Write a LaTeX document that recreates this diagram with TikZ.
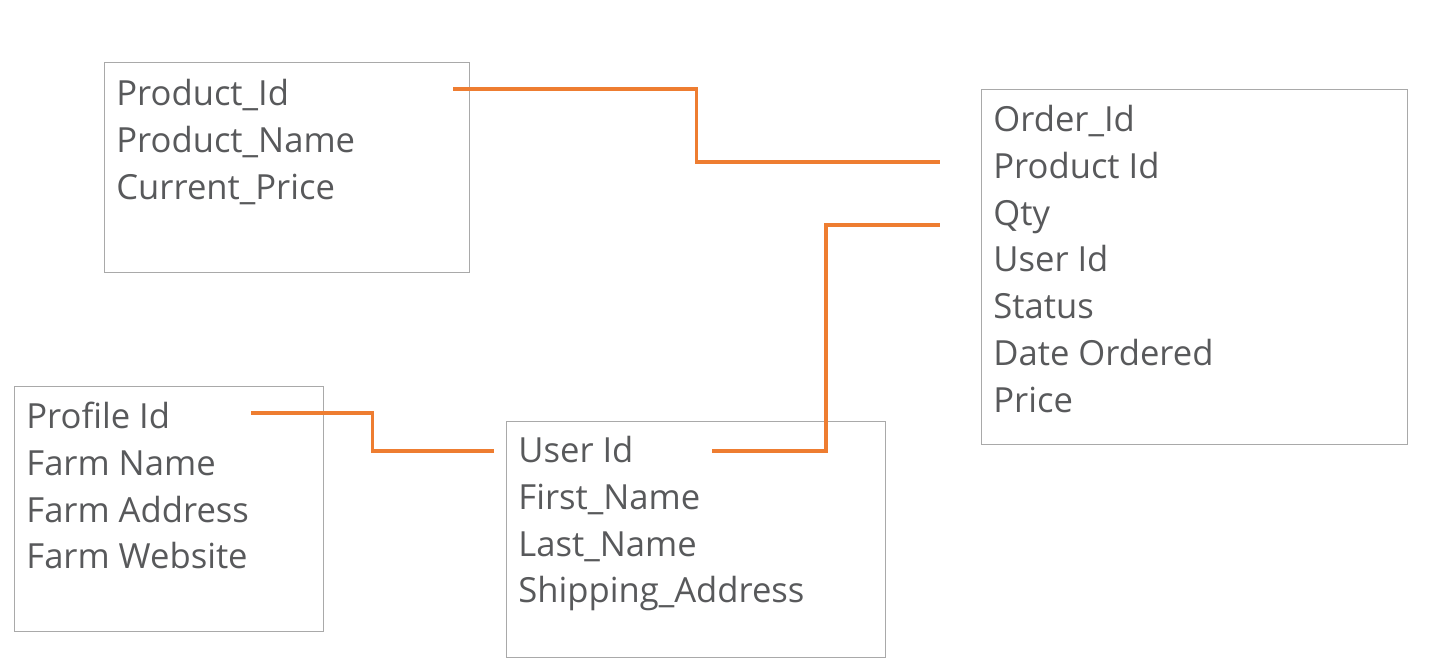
\documentclass[tikz,border=0pt]{standalone}
\usepackage{fontspec}
\setmainfont{Open Sans}
\usetikzlibrary{calc}
\definecolor{boxgrey}{HTML}{A9A9A9}
\definecolor{txtgrey}{HTML}{58595B}
\definecolor{keyorange}{HTML}{EE7D31}
\tikzset{
  tbl/.style={draw=boxgrey, line width=0.5pt, fill=none, inner sep=0pt},
  fld/.style={anchor=base west, inner sep=0pt, text=txtgrey},
  link/.style={draw=keyorange, line width=1.6pt},
}

\begin{document}
\begin{tikzpicture}[x=0.5pt, y=-0.5pt, every node/.style={font=\fontsize{17.3}{20}\selectfont}]
  \useasboundingbox (0,0) rectangle (1440,660);

  % Tables
  \node[tbl, minimum width=182.5pt, minimum height=105.25pt] (product) at (286.5,167.25) {};
  \node[tbl, minimum width=213pt,   minimum height=177.5pt]  (order)   at (1194,266.5) {};
  \node[tbl, minimum width=154.5pt, minimum height=122.5pt]  (profile) at (168.5,508.5) {};
  \node[tbl, minimum width=189.25pt,minimum height=118.25pt] (user)    at (695.75,539.25) {};

  % Fields
  \foreach \f [count=\i] in {Product\_Id, Product\_Name, Current\_Price}
    \node[fld] (product-\i) at (116,58.7+46.8*\i) {\f};
  \foreach \f [count=\i] in {Order\_Id, Product Id, Qty, User Id, Status, Date Ordered, Price}
    \node[fld] (order-\i) at (993,84.7+46.8*\i) {\f};
  \foreach \f [count=\i] in {Profile Id, Farm Name, Farm Address, Farm Website}
    \node[fld] (profile-\i) at (26,381.7+46.8*\i) {\f};
  \foreach \f [count=\i] in {User Id, First\_Name, Last\_Name, Shipping\_Address}
    \node[fld] (user-\i) at (518,415.7+46.8*\i) {\f};

  % Key ends
  \coordinate (pid-a) at (453,89);
  \coordinate (pid-b) at (940,162);
  \coordinate (uid-a) at (712,451);
  \coordinate (uid-b) at (940,225);
  \coordinate (fid-a) at (251,413);
  \coordinate (fid-b) at (494,451);

  % Links
  \draw[link] (pid-a) -| ($(pid-a)!0.5!(pid-b)$) |- (pid-b);
  \draw[link] (uid-a) -| ($(uid-a)!0.5!(uid-b)$) |- (uid-b);
  \draw[link] (fid-a) -| ($(fid-a)!0.5!(fid-b)$) |- (fid-b);
\end{tikzpicture}
\end{document}
